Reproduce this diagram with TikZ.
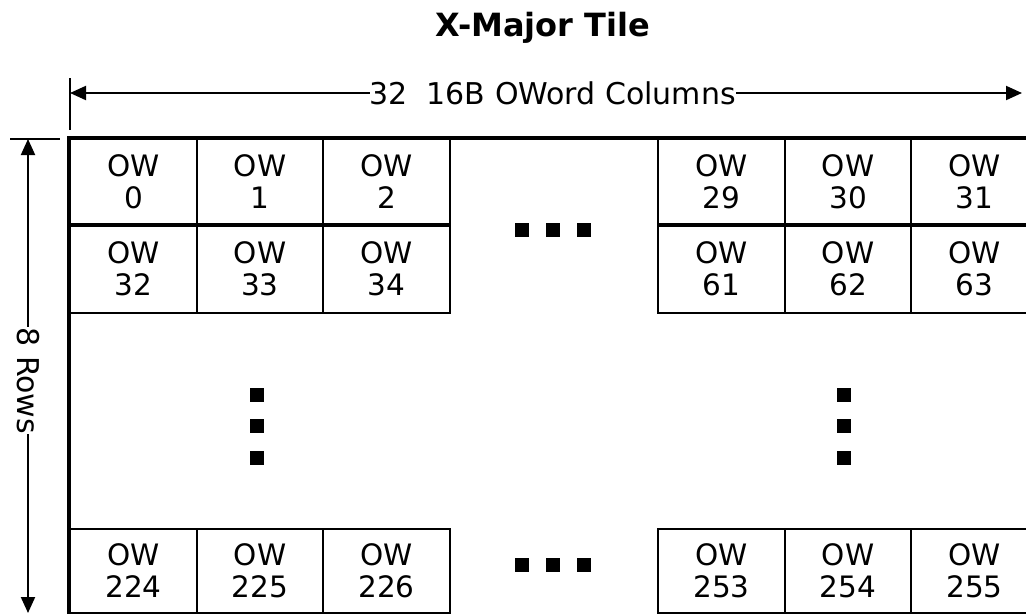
\documentclass[tikz,border=0pt]{standalone}
\usepackage{fontspec}
\setmainfont{DejaVu Sans}
\usepackage{tikz}
\usetikzlibrary{arrows.meta}

\tikzset{
	owcell/.style = {draw, line width = 2pt, inner sep = 0pt, align = center, minimum width = 126.5pt, font = \fontsize{29.5}{32}\selectfont},
	owdot/.style = {fill, inner sep = 0pt, minimum size = 14pt},
	dimline/.style = {{Triangle[length = 16pt, width = 14pt]}-{Triangle[length = 16pt, width = 14pt]}, line width = 2pt},
	dimlabel/.style = {fill = white, inner sep = 0pt, font = \fontsize{30}{32}\selectfont}
}

\begin{document}
\begin{tikzpicture}[x = 1pt, y = -1pt]
	\def\pW{1026}
	\def\pH{614}

	\useasboundingbox (0,0) rectangle (\pW,\pH);

	% title
	\node [font = \fontsize{32}{36}\selectfont\bfseries] (title) at (543,28) {X-Major Tile};

	% the OWord cells
	\begin{scope}
		\clip (0,0) rectangle (\pW,\pH);
		\foreach \r/\y/\h/\n in {a/181.5/85/0, b/268.5/89/32, h/571/84/224}
		{
			\foreach \c/\x in {0/133.5, 1/260, 2/386.5, 29/721.5, 30/848, 31/974.5}
			{
				\pgfmathtruncatemacro{\ow}{\n + \c}
				\node [owcell, minimum height = \h pt] (\r\c) at (\x,\y) {OW\\\ow};
			}
		}
		\draw [line width = 4pt] (a31.north east) -- (a0.north west) -- (h0.south west);
		\draw [line width = 4pt] (a0.south west) -- (a2.south east);
		\draw [line width = 4pt] (a29.south west) -- (a31.south east);
	\end{scope}

	% ellipsis dots
	\begin{scope}
		\foreach \i/\x in {1/522, 2/553, 3/584}
		{
			\node [owdot] (topdot\i) at (\x,230) {};
			\node [owdot] (botdot\i) at (\x,565) {};
		}
		\foreach \i/\y in {1/395, 2/426, 3/458}
		{
			\node [owdot] (leftdot\i) at (257,\y) {};
			\node [owdot] (rightdot\i) at (844,\y) {};
		}
	\end{scope}

	% dimensions
	\begin{scope}
		\coordinate (colL) at (70,93);
		\coordinate (colR) at (1022,93);
		\draw [line width = 2pt] (70,78) -- (70,130);
		\draw [dimline] (colL) -- node [dimlabel, pos = 0.507] (collabel) {32\ \ 16B OWord Columns} (colR);

		\coordinate (rowT) at (28,139);
		\coordinate (rowB) at (28,613);
		\draw [line width = 2pt] (10,139) -- (60,139);
		\draw [dimline] (rowT) -- node [dimlabel, rotate = -90, pos = 0.51] (rowlabel) {8 Rows} (rowB);
	\end{scope}
\end{tikzpicture}
\end{document}
